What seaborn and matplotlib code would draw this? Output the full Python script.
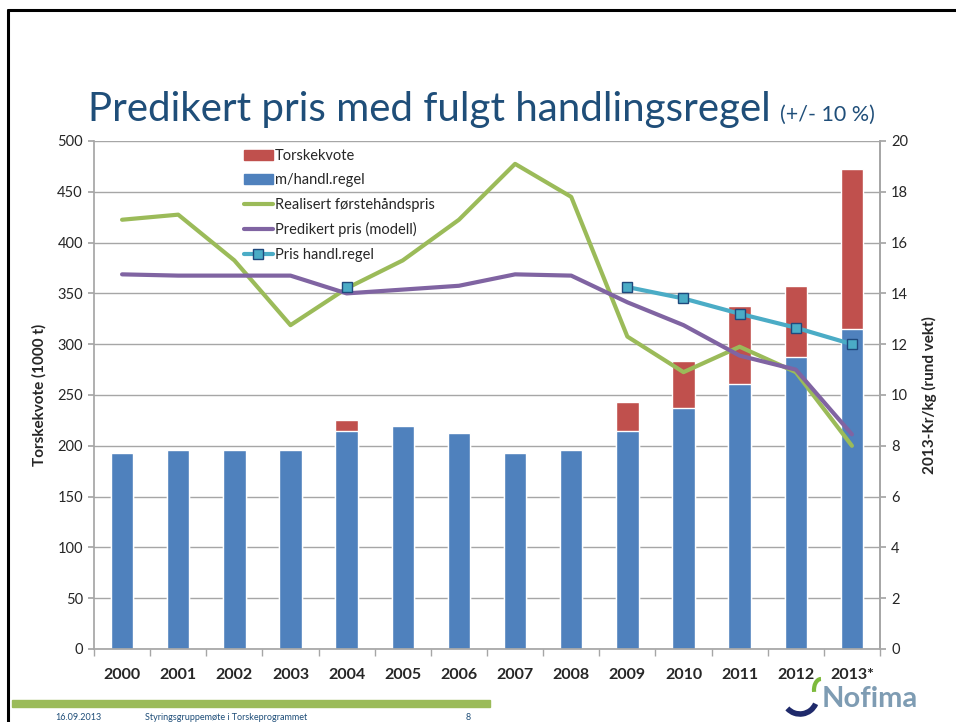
import numpy as np
import pandas as pd
import matplotlib
matplotlib.use('Agg')
import matplotlib.pyplot as plt
import seaborn as sns
from matplotlib.patches import Patch, Rectangle, Arc
from matplotlib.lines import Line2D

# data
years = ['2000', '2001', '2002', '2003', '2004', '2005', '2006',
         '2007', '2008', '2009', '2010', '2011', '2012', '2013*']
handl_regel = [193, 196, 196, 196, 215, 219, 213, 193, 196, 215, 237, 261, 287, 315]
torskekvote = [193, 196, 196, 196, 225, 219, 213, 193, 196, 243, 283, 338, 357, 472]
realisert = [16.9, 17.1, 15.3, 12.75, 14.2, 15.3, 16.9, 19.1, 17.8, 12.3, 10.9, 11.9, 10.9, 8.0]
predikert = [14.75, 14.7, 14.7, 14.7, 14.0, 14.15, 14.3, 14.75, 14.7, 13.65, 12.75, 11.55, 11.0, 8.45]
pris_handl = [np.nan, np.nan, np.nan, np.nan, 14.25, np.nan, np.nan,
              np.nan, np.nan, 14.25, 13.8, 13.2, 12.65, 12.0]

RED = '#C0504D'
BLUE = '#4F81BD'
GREEN = '#9BBB59'
PURPLE = '#8064A2'
CYAN = '#4BACC6'
GRID = '#A6A6A6'

sns.set_theme(style='white')
plt.rcParams['font.family'] = ['Lato', 'DejaVu Sans']

fig = plt.figure(figsize=(9.56, 7.22), dpi=100)
ax = fig.add_axes([94/956, 1-649/722, (880-94)/956, (649-141)/722])

df = pd.DataFrame({'year': years, 'blue': handl_regel, 'total': torskekvote})
sns.barplot(data=df, x='year', y='total', color=RED, width=0.4, saturation=1, ax=ax)
sns.barplot(data=df, x='year', y='blue', color=BLUE, width=0.4, saturation=1, ax=ax)

ax.set_xlim(-0.5, 13.5)
ax.set_ylim(0, 500)
ax.set_yticks(range(0, 501, 50))
ax.yaxis.grid(True, color=GRID, lw=1)
ax.set_axisbelow(True)
ax.set_xlabel('')
ax.set_ylabel('Torskekvote (1000 t)', fontsize=11, fontweight='bold', labelpad=8)
ax.tick_params(axis='y', labelsize=10.5, length=4, color=GRID, left=True, pad=4)
ax.tick_params(axis='x', which='major', length=0, pad=14)
ax.set_xticks(np.arange(-0.5, 14, 1), minor=True)
ax.tick_params(axis='x', which='minor', length=5, color=GRID, bottom=True)
for t in ax.get_xticklabels():
    t.set_fontweight('bold')
    t.set_fontsize(11.5)
ax.spines['top'].set_visible(False)
for s in ['left', 'right', 'bottom']:
    ax.spines[s].set_color(GRID)

ax2 = ax.twinx()
x = np.arange(len(years))
ax2.plot(x, realisert, color=GREEN, lw=3)
ax2.plot(x, predikert, color=PURPLE, lw=3)
ax2.plot(x, pris_handl, color=CYAN, lw=3, marker='s', markersize=7,
         markerfacecolor=CYAN, markeredgecolor='#1F497D', markeredgewidth=1)
ax2.set_ylim(0, 20)
ax2.set_yticks(range(0, 21, 2))
ax2.set_ylabel('2013-Kr/kg (rund vekt)', fontsize=11, fontweight='bold', labelpad=10)
ax2.tick_params(axis='y', labelsize=10.5, length=4, color=GRID, right=True, pad=4)
for s in ['top', 'left', 'bottom']:
    ax2.spines[s].set_visible(False)
ax2.spines['right'].set_color(GRID)

handles = [Patch(color=RED), Patch(color=BLUE),
           Line2D([], [], color=GREEN, lw=3),
           Line2D([], [], color=PURPLE, lw=3),
           Line2D([], [], color=CYAN, lw=3, marker='s', markersize=7,
                  markerfacecolor=CYAN, markeredgecolor='#1F497D')]
labels = ['Torskekvote', 'm/handl.regel', 'Realisert førstehåndspris',
          'Predikert pris (modell)', 'Pris handl.regel']
fig.legend(handles, labels, loc='upper left', bbox_to_anchor=(238/956, 1-143/722),
           frameon=False, fontsize=10.5, handlelength=2.0, handletextpad=0.15,
           labelspacing=0.72, borderaxespad=0)

# title
t1 = fig.text(88/956, 1-121/722, 'Predikert pris med fulgt handlingsregel',
              fontsize=29, color='#1F4E79', va='baseline')
fig.canvas.draw()
bb = t1.get_window_extent()
fig.text((bb.x1 + 9)/956, 1-121/722, '(+/- 10 %)', fontsize=15.5,
         color='#1F4E79', va='baseline')

# slide frame and footer
fig.add_artist(Line2D([8/956, 1], [1-10/722, 1-10/722], color='black', lw=2.2))
fig.add_artist(Line2D([8/956, 8/956], [0, 1-10/722], color='black', lw=2.2))
fig.add_artist(Rectangle((12/956, 1-707/722), 478/956, 7/722, color=GREEN,
                         transform=fig.transFigure))
fig.text(55/956, 1-717/722, '16.09.2013', fontsize=6.5, color='#1F4E79', va='center')
fig.text(145/956, 1-717/722, 'Styringsgruppemøte i Torskeprogrammet', fontsize=6.5,
         color='#1F4E79', va='center')
fig.text(466/956, 1-717/722, '8', fontsize=6.5, color='#1F4E79', va='center')
fig.text(822/956, 1-699/722, 'Nofima', fontsize=21, fontweight='bold',
         color='#7E9CB3', va='center')
# simple logo swoosh
fig.add_artist(Arc((800/956, 1-697/722), 34/956, 34/722, theta1=230, theta2=330,
                   color='#1F2A6B', lw=4, transform=fig.transFigure))
fig.add_artist(Arc((821/956, 1-690/722), 14/956, 22/722, theta1=90, theta2=200,
                   color='#7DBA3C', lw=3, transform=fig.transFigure))

fig.savefig('out.png', dpi=100)
